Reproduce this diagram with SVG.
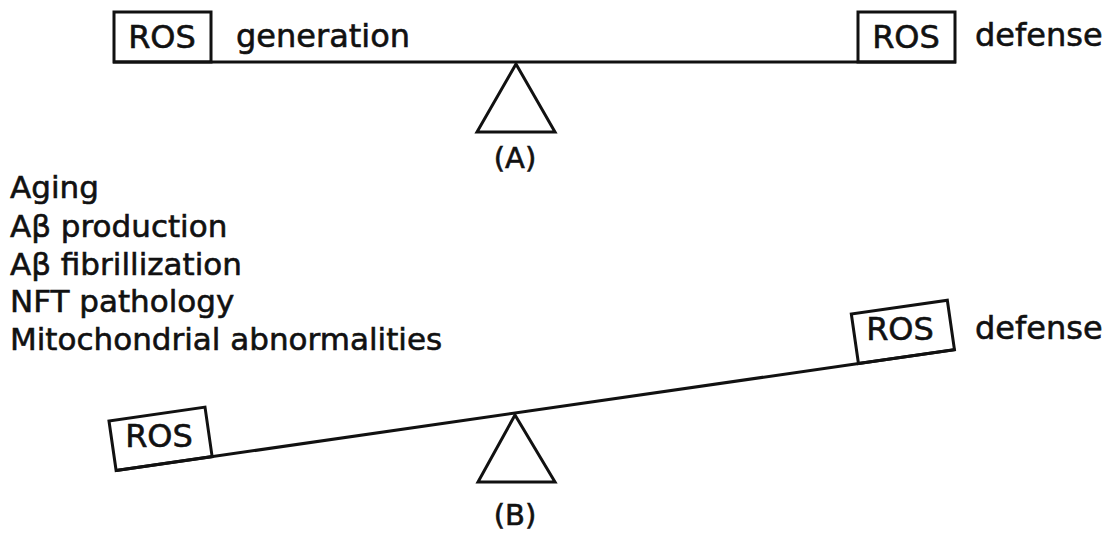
<svg xmlns="http://www.w3.org/2000/svg" width="1114" height="538" viewBox="0 0 1114 538">
<style>
.t{font-family:"DejaVu Sans","Verdana",sans-serif;fill:#111;stroke:#111;stroke-width:0.6;}
.big{font-size:32px;}
.lst{font-size:31px;}
.lbl{font-size:29px;}
.s{fill:none;stroke:#111;stroke-width:3;}
</style>
<rect width="1114" height="538" fill="#fff"/>
<g id="balanceA">
  <g id="connectorsA">
    <line class="s" x1="113" y1="62" x2="956" y2="62"/>
  </g>
  <g id="rosGenA"><rect class="s" x="114" y="12" width="97" height="50"/><text class="t big" x="162" y="48" text-anchor="middle">ROS</text></g>
  <text class="t big" x="236" y="47">generation</text>
  <g id="rosDefA"><rect class="s" x="858" y="12" width="97" height="50"/><text class="t big" x="906" y="48" text-anchor="middle">ROS</text></g>
  <text class="t big" x="975" y="46">defense</text>
  <g id="fulcrumA"><polygon class="s" points="516,64 477,132 555,132"/></g>
  <text class="t lbl" x="515" y="168" text-anchor="middle">(A)</text>
</g>
<g id="factors">
  <text class="t lst" x="10" y="198">Aging</text>
  <text class="t lst" x="10" y="237">Aβ production</text>
  <text class="t lst" x="10" y="275">Aβ fibrillization</text>
  <text class="t lst" x="10" y="312">NFT pathology</text>
  <text class="t lst" x="10" y="350">Mitochondrial abnormalities</text>
</g>
<g id="balanceB">
  <g id="beamB" transform="rotate(-8.2 515 413)">
    <line class="s" x1="112" y1="413" x2="960" y2="413"/>
    <rect class="s" x="112" y="363" width="97" height="50"/>
    <rect class="s" x="862" y="363" width="97" height="50"/>
  </g>
  <text class="t big" x="159" y="447" text-anchor="middle">ROS</text>
  <text class="t big" x="900" y="340" text-anchor="middle">ROS</text>
  <text class="t big" x="975" y="339">defense</text>
  <g id="fulcrumB"><polygon class="s" points="515,415 478,482 555,482"/></g>
  <text class="t lbl" x="515" y="525" text-anchor="middle">(B)</text>
</g>
</svg>
